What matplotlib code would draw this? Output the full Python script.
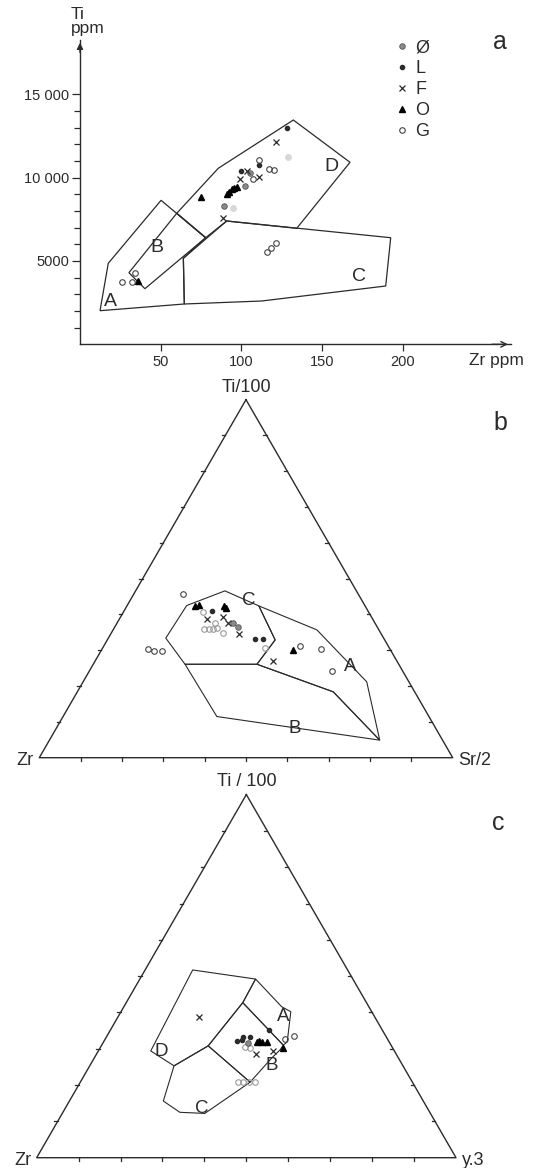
import numpy as np
import matplotlib
matplotlib.use("Agg")
from matplotlib import pyplot as plt
from matplotlib.lines import Line2D

plt.rcParams["font.family"] = ["Liberation Sans", "DejaVu Sans"]

INK = "#2b2b2b"
W, H = 543, 1168

# ---------------- panel a : Ti (ppm) vs Zr (ppm) ----------------
a_fields = {
    "A": ([12.4, 17.5, 50.2, 77.8, 64.0, 64.6], [2017, 4862, 8643, 6398, 5162, 2419]),
    "B": ([30.3, 59.9, 77.8, 40.2], [4298, 7863, 6398, 3337]),
    "D": ([59.9, 85.6, 132.1, 167.2, 134.2, 90.8, 77.8],
          [7863, 10563, 13462, 10924, 6962, 7400, 6398]),
    "C": ([90.8, 192.4, 189.3, 112.5, 64.6, 64.0],
          [7400, 6398, 3499, 2599, 2419, 5162]),
}
a_label_zr = [19.0, 47.5, 173.0, 155.4]
a_label_ti = [2557, 5822, 4099, 10700]
a_label_txt = ["A", "B", "C", "D"]

a_phi_zr = [105.3, 102.2, 89.2]
a_phi_ti = [10300, 9500, 8300]
a_faint_zr = [128.6, 94.6]
a_faint_ti = [11224, 8162]
a_l_zr = [128.4, 110.6, 99.5]
a_l_ti = [13000, 10762, 10420]
a_f_zr = [121.2, 103.2, 99.1, 111.0, 88.4]
a_f_ti = [12124, 10420, 9940, 10020, 7562]
a_o_zr = [90.8, 92.5, 93.9, 95.5, 97.0, 74.9, 36.0]
a_o_ti = [9003, 9159, 9303, 9363, 9459, 8823, 3780]
a_g_zr = [110.6, 117.2, 120.3, 107.3, 116.0, 118.1, 121.2, 26.2, 32.0, 34.1]
a_g_ti = [11062, 10522, 10462, 9900, 5558, 5762, 6062, 3757, 3757, 4261]

# ---------------- panel b : Ti/100 - Zr - Sr/2 (ternary %, Ti, Zr, Sr) ----------------
b_fields = {
    "C": [(42.5, 43.1, 14.4), (46.6, 31.8, 21.6), (42.4, 25.7, 31.9), (32.9, 26.5, 40.6),
          (26.1, 34.3, 39.6), (26.1, 51.7, 22.2), (33.4, 52.7, 13.9)],
    "A": [(42.4, 25.7, 31.9), (35.7, 15.0, 49.3), (21.2, 10.2, 68.6), (4.9, 15.2, 79.9),
          (18.4, 19.7, 61.9), (26.1, 34.3, 39.6), (32.9, 26.5, 40.6)],
    "B": [(26.1, 51.7, 22.2), (26.1, 34.3, 39.6), (18.4, 19.7, 61.9), (4.9, 15.2, 79.9),
          (11.5, 51.3, 37.2)],
}
b_labels = {"C": (43.8, 27.5, 28.7), "A": (25.4, 12.1, 62.5), "B": (8.2, 34.0, 57.8)}

b_phi = [(36.6, 33.6, 29.8), (37.7, 34.3, 28.0)]
b_l = [(41.1, 37.7, 21.2), (33.1, 31.2, 35.7), (33.1, 29.4, 37.5)]
b_f = [(38.7, 40.1, 21.2), (39.4, 35.8, 24.8), (37.5, 35.6, 26.9), (34.6, 34.5, 30.9),
       (27.0, 29.9, 43.1)]
b_o = [(42.4, 41.1, 16.5), (42.7, 40.0, 17.3), (42.4, 34.1, 23.5), (41.9, 33.8, 24.3),
       (30.1, 23.6, 46.3)]
b_g = [(45.6, 42.4, 12.0), (31.2, 21.3, 47.5), (30.3, 16.7, 53.0), (24.3, 17.1, 58.6),
       (29.8, 55.5, 14.7), (29.9, 57.3, 12.8), (30.3, 58.6, 11.1)]
b_g_grey = [(40.8, 39.9, 19.3), (37.7, 38.7, 23.6), (35.9, 42.3, 21.8), (35.9, 41.1, 23.0),
            (36.0, 39.9, 24.1), (36.1, 38.9, 25.0), (34.7, 38.3, 27.0), (30.6, 30.1, 39.3)]

# ---------------- panel c : Ti/100 - Zr - Y*3 (ternary %, Ti, Zr, Y) ----------------
c_fields = {
    "D": [(51.7, 36.95, 11.35), (49.2, 23.2, 27.6), (42.7, 29.5, 27.8), (30.8, 43.7, 25.5),
          (25.3, 54.6, 20.1), (29.4, 58.1, 12.5)],
    "A": [(49.2, 23.2, 27.6), (41.6, 20.8, 37.6), (40.2, 19.3, 40.5), (31.9, 24.3, 43.8),
          (31.0, 25.7, 43.3), (42.7, 29.5, 27.8)],
    "B": [(42.7, 29.5, 27.8), (31.0, 25.7, 43.3), (29.7, 27.1, 43.2), (27.4, 30.3, 42.3),
          (20.8, 38.7, 40.5), (30.8, 43.7, 25.5)],
    "C": [(25.3, 54.6, 20.1), (30.8, 43.7, 25.5), (20.8, 38.7, 40.5), (12.2, 53.8, 34.0),
          (12.5, 59.6, 27.9), (15.6, 62.0, 22.4)],
}
c_labels = {"A": (39.0, 21.7, 39.3), "B": (25.3, 31.3, 43.4), "C": (13.6, 53.8, 32.6),
            "D": (29.2, 55.6, 15.2)}

c_phi = [(31.7, 33.7, 34.6)]
c_l = [(32.1, 36.2, 31.7), (32.4, 34.9, 32.7), (33.2, 34.3, 32.5), (33.3, 32.5, 34.2),
       (35.2, 26.9, 37.9)]
c_f = [(38.7, 41.9, 19.4), (28.6, 33.4, 38.0), (29.5, 29.0, 41.5)]
c_o = [(31.9, 31.6, 36.5), (32.2, 30.8, 37.0), (31.9, 30.3, 37.8), (31.9, 29.2, 38.9),
       (30.1, 26.1, 43.8)]
c_g = [(32.6, 24.5, 42.9), (33.5, 21.9, 44.6)]
c_g_grey = [(30.6, 35.0, 34.4), (30.1, 34.1, 35.8), (20.9, 41.5, 37.6), (20.9, 40.3, 38.8),
            (20.9, 38.8, 40.3), (20.9, 37.5, 41.6)]

# marker styles
sty_phi = dict(marker="o", ms=4, mfc="#8a8a8a", mec="#555555", mew=0.6, ls="none")
sty_l = dict(marker="o", ms=3, mfc=INK, mec=INK, ls="none")
sty_f = dict(marker="x", ms=4, mec=INK, mew=0.9, ls="none")
sty_o = dict(marker="^", ms=5, mfc="black", mec="black", ls="none")
sty_g = dict(marker="o", ms=4, mfc="none", mec="#444444", mew=0.8, ls="none")
sty_g_grey = dict(marker="o", ms=4, mfc="none", mec="#999999", mew=0.8, ls="none")


def tern(pts):
    p = np.asarray(pts, dtype=float)
    s = p.sum(axis=1)
    t, r = p[:, 0] / s, p[:, 2] / s
    return r + t / 2, t * np.sqrt(3) / 2


fig = plt.figure(figsize=(W / 100, H / 100), dpi=100)

# ---------------- panel a ----------------
ax = fig.add_axes([80 / W, (H - 344.3) / H, 430.7 / W, 304.3 / H])
ax.set_xlim(0, 266.7)
ax.set_ylim(0, 18265)
for s in ["top", "right"]:
    ax.spines[s].set_visible(False)
for s in ["left", "bottom"]:
    ax.spines[s].set_color(INK)
    ax.spines[s].set_linewidth(1.0)
ax.set_xticks([50, 100, 150, 200])
ax.set_xticklabels(["50", "100", "150", "200"])
ax.set_yticks([5000, 10000, 15000])
ax.set_yticklabels(["5000", "10 000", "15 000"])
ax.set_yticks(np.arange(1000, 15001, 1000), minor=True)
ax.tick_params(axis="x", length=5, width=0.9, pad=3, labelsize=10.5, colors=INK)
ax.tick_params(axis="y", which="major", length=6, width=0.9, pad=2, labelsize=10.5, colors=INK)
ax.tick_params(axis="y", which="minor", length=4, width=0.9, colors=INK)
ax.annotate("", xy=(1, 0), xytext=(0.95, 0), xycoords="axes fraction",
            arrowprops=dict(arrowstyle="->", lw=1.0, color=INK, mutation_scale=10))
ax.annotate("", xy=(0, 1), xytext=(0, 0.95), xycoords="axes fraction",
            arrowprops=dict(arrowstyle="-|>", lw=1.0, color=INK, mutation_scale=9))

for zr, ti in a_fields.values():
    ax.fill(zr, ti, fc="none", ec=INK, lw=0.9)
for x, y, t in zip(a_label_zr, a_label_ti, a_label_txt):
    ax.text(x, y, t, ha="center", va="center", fontsize=14, color=INK)

ax.plot(a_faint_zr, a_faint_ti, marker="o", ms=4, mfc="#d8d8d8", mec="#d8d8d8", ls="none")
ax.plot(a_phi_zr, a_phi_ti, **sty_phi)
ax.plot(a_l_zr, a_l_ti, **sty_l)
ax.plot(a_f_zr, a_f_ti, **sty_f)
ax.plot(a_o_zr, a_o_ti, **sty_o)
ax.plot(a_g_zr, a_g_ti, **sty_g)

handles = [Line2D([], [], **sty_phi), Line2D([], [], **sty_l), Line2D([], [], **sty_f),
           Line2D([], [], marker="^", ms=4.5, mfc="black", mec="black", ls="none"),
           Line2D([], [], **sty_g)]
fig.legend(handles, ["Ø", "L", "F", "O", "G"], loc="upper left",
           bbox_to_anchor=(388 / W, 1 - 30 / H), frameon=False, fontsize=13,
           handlelength=0.6, handletextpad=0.4, labelspacing=0.22, borderpad=0,
           labelcolor=INK)

fig.text(71 / W, 1 - 7 / H, "Ti\nppm", ha="left", va="top", fontsize=12.5,
         linespacing=0.95, color=INK)
fig.text(469 / W, 1 - 360 / H, "Zr ppm", ha="left", va="center", fontsize=12.5, color=INK)
fig.text(500 / W, 1 - 42 / H, "a", ha="center", va="center", fontsize=18, color=INK)


# ---------------- ternary panels ----------------
def ternary(axt, fields, labels, right_label, top_label):
    cx, cy = tern([(100, 0, 0), (0, 100, 0), (0, 0, 100), (100, 0, 0)])
    axt.plot(cx, cy, color=INK, lw=1.0)
    k = np.arange(10, 100, 10)
    bx, by = tern([(0, 100 - v, v) for v in k])
    lx, ly = tern([(v, 100 - v, 0) for v in k])
    rx, ry = tern([(v, 0, 100 - v) for v in k])
    tl = 0.008
    for x, y in zip(bx, by):
        axt.plot([x, x], [y, y - tl], color=INK, lw=0.9)
    for x, y in zip(np.r_[lx, rx], np.r_[ly, ry]):
        axt.plot([x, x - tl], [y, y], color=INK, lw=0.9)
    for pts in fields.values():
        x, y = tern(pts)
        axt.fill(x, y, fc="none", ec=INK, lw=0.8)
    for t, p in labels.items():
        x, y = tern([p])
        axt.text(x[0], y[0], t, ha="center", va="center", fontsize=13.5, color=INK)
    axt.annotate(top_label, xy=(cx[0], cy[0]), xytext=(0, 3), textcoords="offset points",
                 ha="center", va="bottom", fontsize=13, color=INK)
    axt.annotate("Zr", xy=(cx[1], cy[1]), xytext=(-4, -2), textcoords="offset points",
                 ha="right", va="center", fontsize=13, color=INK)
    axt.annotate(right_label, xy=(cx[2], cy[2]), xytext=(4, -2), textcoords="offset points",
                 ha="left", va="center", fontsize=13, color=INK)
    axt.axis("off")


def plot_tern(axt, pts, sty):
    if pts:
        x, y = tern(pts)
        axt.plot(x, y, **sty)


axb = fig.add_axes([0, (H - 770) / H, 1, 390 / H])
axb.set_xlim(-39.3 / 413.4, (W - 39.3) / 413.4)
axb.set_ylim((757.7 - 770) / 413.4, (757.7 - 380) / 413.4)
ternary(axb, b_fields, b_labels, "Sr/2", "Ti/100")
plot_tern(axb, b_g_grey, sty_g_grey)
plot_tern(axb, b_g, sty_g)
plot_tern(axb, b_phi, sty_phi)
plot_tern(axb, b_l, sty_l)
plot_tern(axb, b_f, sty_f)
plot_tern(axb, b_o, sty_o)
fig.text(500 / W, 1 - 423 / H, "b", ha="center", va="center", fontsize=18, color=INK)

axc = fig.add_axes([0, 0, 1, 398 / H])
axc.set_xlim(-36.7 / 419.3, (W - 36.7) / 419.3)
axc.set_ylim((1157.7 - 1168) / 419.3, (1157.7 - 770) / 419.3)
ternary(axc, c_fields, c_labels, "y.3", "Ti / 100")
plot_tern(axc, c_g_grey, sty_g_grey)
plot_tern(axc, c_g, sty_g)
plot_tern(axc, c_phi, sty_phi)
plot_tern(axc, c_l, sty_l)
plot_tern(axc, c_f, sty_f)
plot_tern(axc, c_o, sty_o)
fig.text(498 / W, 1 - 823 / H, "c", ha="center", va="center", fontsize=18, color=INK)

fig.savefig("out.png", dpi=100, facecolor="white")
